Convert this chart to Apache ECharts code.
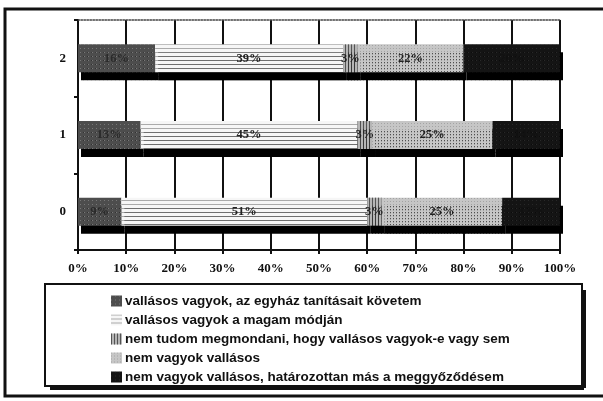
<!DOCTYPE html>
<html>
<head>
<meta charset="utf-8">
<script src="https://cdn.jsdelivr.net/npm/echarts@6/dist/echarts.min.js"></script>
<style>
  html, body { margin: 0; padding: 0; background: #fff; }
  #chart { width: 603px; height: 401px; }
</style>
</head>
<body>
<div id="chart"></div>
<script>
const categories = ['0', '1', '2']
const seriesNames = [
    'vallásos vagyok, az egyház tanításait követem',
    'vallásos vagyok a magam módján',
    'nem tudom megmondani, hogy vallásos vagyok-e vagy sem',
    'nem vagyok vallásos',
    'nem vagyok vallásos, határozottan más a meggyőződésem'
]
const tanitas = [9, 13, 16]
const magamModjan = [51, 45, 39]
const nemTudom = [3, 3, 3]
const nemVallasos = [25, 25, 22]
const masMeggyozodes = [12, 14, 20]
const tickLabels = ['0%', '10%', '20%', '30%', '40%', '50%', '60%', '70%', '80%', '90%', '100%']

const values = [tanitas, magamModjan, nemTudom, nemVallasos, masMeggyozodes]
const fills = ['#4d4d4d', '#f6f6f6', '#b5b5b5', '#c6c6c6', '#141414']
const decals = [
    { symbol: 'rect', color: 'rgba(200,200,200,0.35)', dashArrayX: [1, 3], dashArrayY: [1, 3] },
    { symbol: 'rect', color: 'rgba(120,120,120,0.6)', dashArrayX: [1, 0], dashArrayY: [1, 3] },
    { symbol: 'rect', color: 'rgba(60,60,60,0.8)', dashArrayX: [1, 2], dashArrayY: [1, 0] },
    { symbol: 'rect', color: 'rgba(140,140,140,0.6)', dashArrayX: [1, 2], dashArrayY: [1, 2] },
    { symbol: 'rect', color: 'rgba(60,60,60,0.5)', dashArrayX: [1, 3], dashArrayY: [1, 3] }
]
const labelColors = ['#2a2a2a', '#222', '#222', '#222', '#111']

const serif = '"Liberation Serif", "DejaVu Serif", serif'

const chart = echarts.init(document.getElementById('chart'), null, { renderer: 'canvas' })
chart.setOption({
    animation: false,
    backgroundColor: '#fff',
    grid: { left: 78, right: 43, top: 20, bottom: 151 },
    legend: {
        orient: 'vertical',
        left: 106,
        top: 289,
        itemWidth: 11,
        itemHeight: 11,
        itemGap: 5,
        icon: 'rect',
        data: seriesNames,
        textStyle: {
            fontFamily: '"Liberation Sans", Arial, sans-serif',
            fontWeight: 'bold',
            fontSize: 13.5,
            color: '#111',
            padding: [0, 0, 0, -2]
        },
        selectedMode: false
    },
    xAxis: [
        {
            type: 'value',
            min: 0,
            max: 100,
            interval: 10,
            axisLine: { show: true, lineStyle: { color: '#111', width: 2 } },
            axisTick: { show: true, length: 4, lineStyle: { color: '#111', width: 2 } },
            splitLine: { show: true, lineStyle: { color: '#111', width: 2 } },
            axisLabel: {
                formatter: (v) => tickLabels[v / 10],
                fontFamily: serif,
                fontWeight: 'bold',
                fontSize: 13,
                color: '#111',
                margin: 12
            }
        },
        {
            type: 'value',
            position: 'top',
            min: 0,
            max: 100,
            interval: 10,
            axisLine: { show: true, lineStyle: { color: '#444', width: 1.5, type: 'dotted' } },
            axisTick: { show: false },
            axisLabel: { show: false },
            splitLine: { show: false }
        }
    ],
    yAxis: {
        type: 'category',
        data: categories,
        axisLine: { show: true, lineStyle: { color: '#111', width: 2 } },
        axisTick: { show: true, length: 4, lineStyle: { color: '#111', width: 2 } },
        axisLabel: {
            fontFamily: serif,
            fontWeight: 'bold',
            fontSize: 13,
            color: '#111',
            margin: 12
        }
    },
    series: seriesNames.map((name, i) => ({
        name: name,
        type: 'bar',
        stack: 'total',
        barWidth: 28,
        data: values[i],
        itemStyle: {
            color: fills[i],
            decal: decals[i],
            shadowColor: '#000',
            shadowOffsetX: 3,
            shadowOffsetY: 8,
            shadowBlur: 0
        },
        label: {
            show: true,
            position: 'inside',
            formatter: '{c}%',
            fontFamily: serif,
            fontWeight: 'bold',
            fontSize: 12.5,
            color: labelColors[i]
        }
    })),
    graphic: [
        {
            type: 'rect',
            shape: { x: 5, y: 9, width: 620, height: 387 },
            style: { fill: 'none', stroke: '#111', lineWidth: 3 },
            silent: true
        },
        {
            type: 'rect',
            shape: { x: 45, y: 284, width: 537, height: 102 },
            style: { fill: 'none', stroke: '#111', lineWidth: 2 },
            silent: true
        },
        {
            type: 'line',
            shape: { x1: 50, y1: 388, x2: 584, y2: 388 },
            style: { stroke: '#111', lineWidth: 4 },
            silent: true
        },
        {
            type: 'line',
            shape: { x1: 584, y1: 290, x2: 584, y2: 388 },
            style: { stroke: '#111', lineWidth: 4 },
            silent: true
        }
    ]
})
</script>
</body>
</html>
